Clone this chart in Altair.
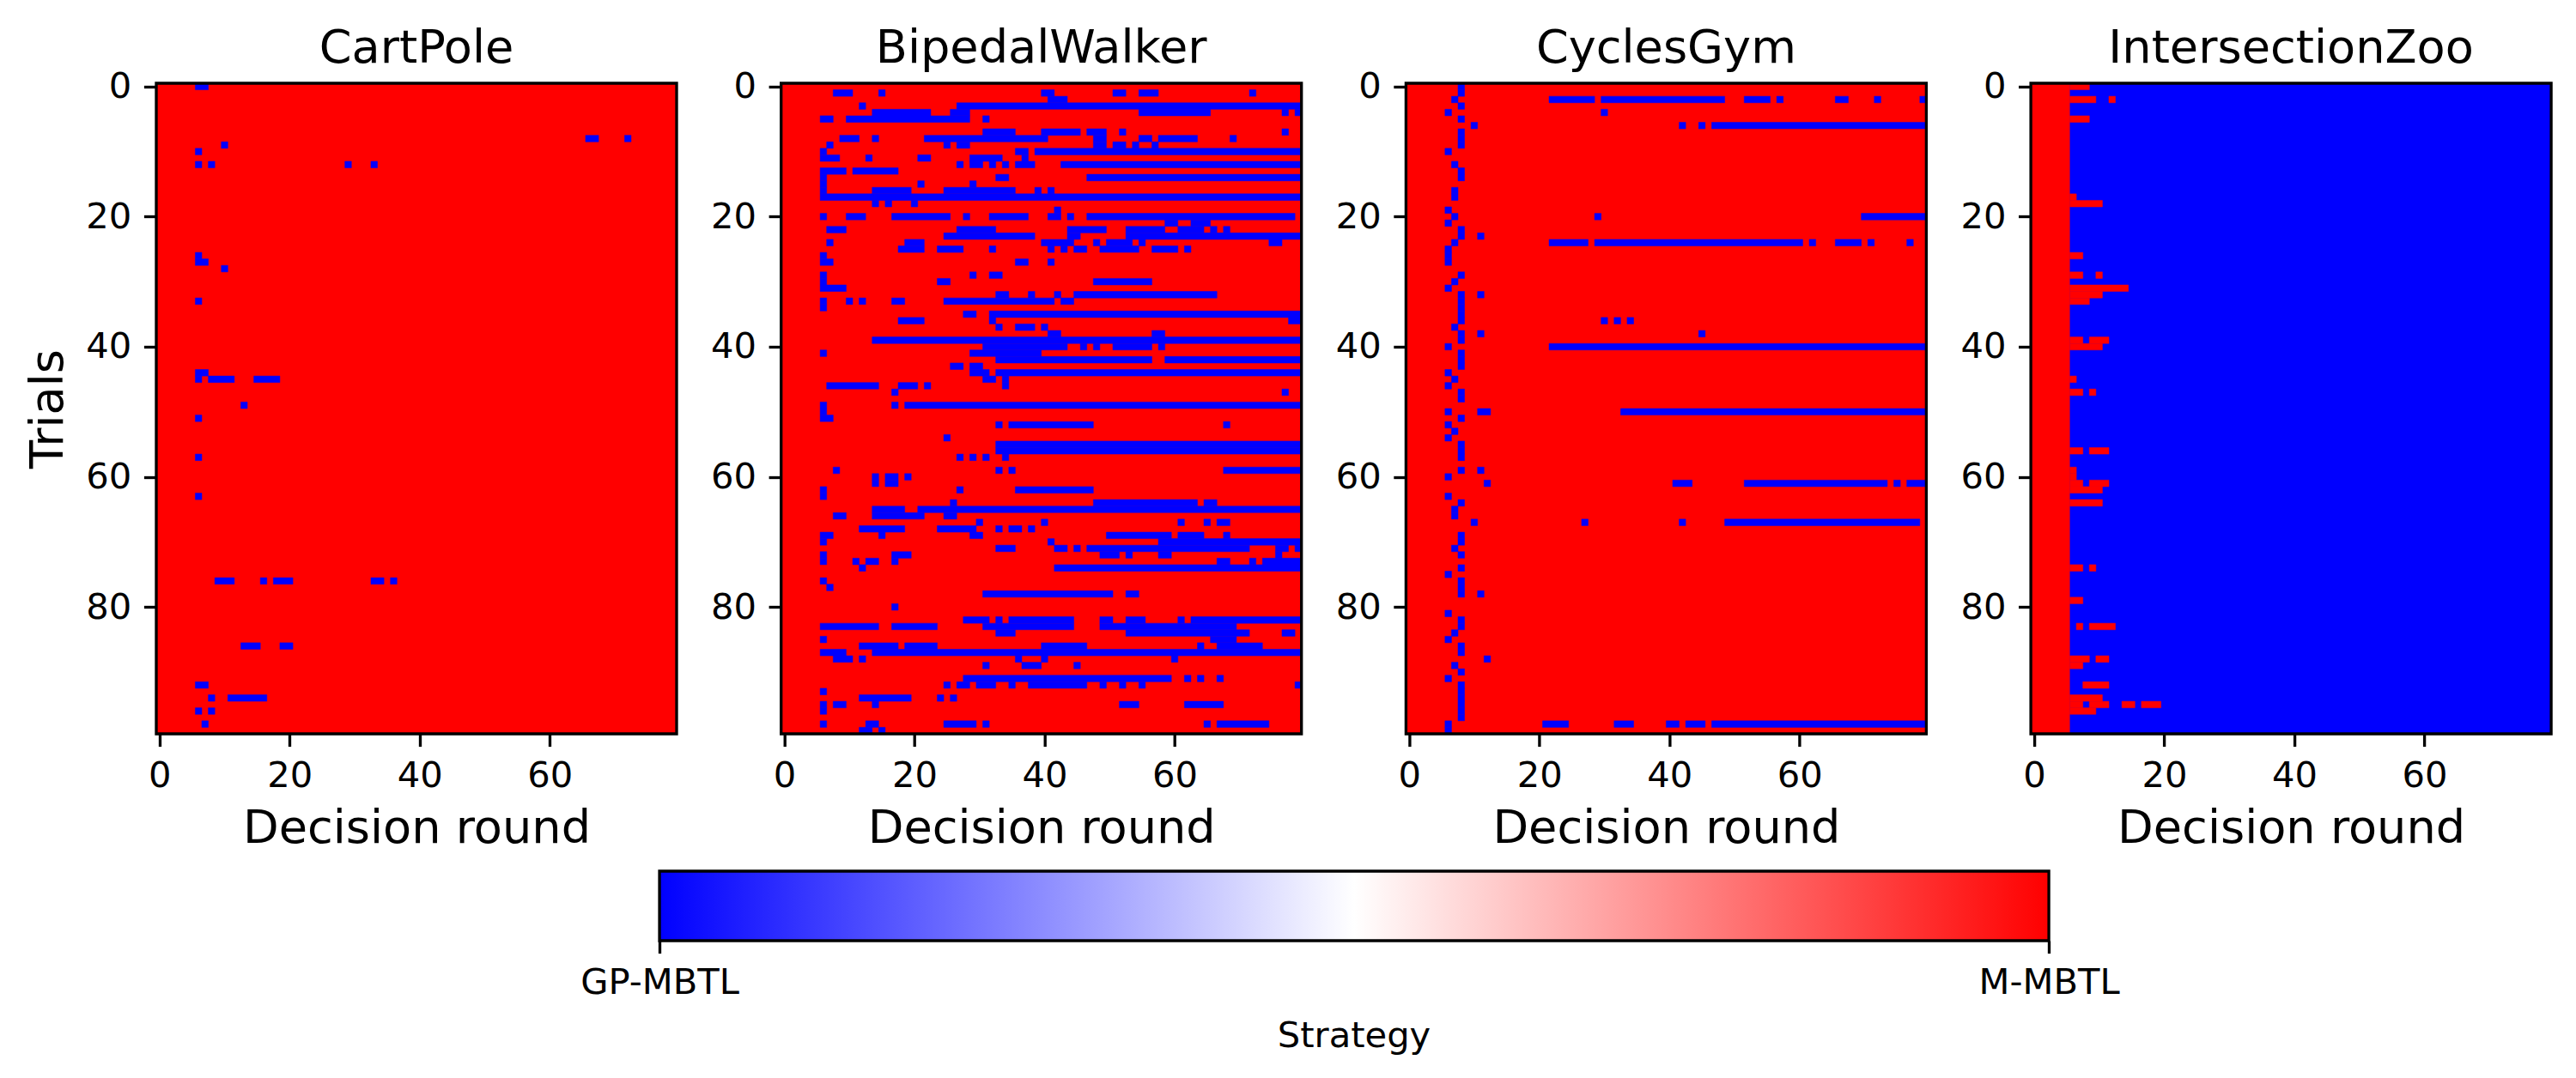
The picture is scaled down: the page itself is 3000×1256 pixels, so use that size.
import altair as alt
import pandas as pd

ROUNDS = 80
TRIALS = 100
XTICKS = [0, 20, 40, 60]
YTICKS = [0, 20, 40, 60, 80]
FONT = "DejaVu Sans"
BLUE = "#0000ff"
RED = "#ff0000"
LINE = 3.33
TICK_LEN = 14.6
TICK_FONT = 41.67
LABEL_FONT = 54.17

# value 1 = M-MBTL (red), value 0 = GP-MBTL (blue)
# each table: trial -> inclusive round spans holding the less common strategy
CARTPOLE_BLUE = {
    0: [(6, 7)], 8: [(66, 67), (72, 72)], 9: [(10, 10)], 10: [(6, 6)],
    12: [(6, 6), (8, 8), (29, 29), (33, 33)], 26: [(6, 6)], 27: [(6, 7)],
    28: [(10, 10)], 33: [(6, 6)], 44: [(6, 7)],
    45: [(6, 6), (8, 11), (15, 18)], 49: [(13, 13)], 51: [(6, 6)],
    57: [(6, 6)], 63: [(6, 6)],
    76: [(9, 11), (16, 16), (18, 20), (33, 34), (36, 36)],
    86: [(13, 15), (19, 20)], 92: [(6, 7)], 94: [(8, 8), (11, 16)],
    96: [(6, 6), (8, 8)], 98: [(7, 7)],
}

BIPEDAL_BLUE = {
    1: [(8, 10), (15, 15), (40, 41), (51, 52), (55, 57), (72, 72)],
    2: [(41, 43)],
    3: [(12, 12), (27, 79)],
    4: [(14, 22), (26, 28), (55, 65), (77, 77), (79, 79)],
    5: [(6, 7), (10, 28), (31, 31)],
    7: [(31, 35), (40, 45), (47, 49), (52, 52), (77, 77)],
    8: [(9, 11), (14, 14), (22, 40), (48, 49), (55, 56), (58, 63), (69, 69)],
    9: [(7, 7), (25, 25), (27, 28), (48, 49), (51, 52), (54, 54), (57, 57)],
    10: [(6, 6), (36, 37), (39, 79)],
    11: [(6, 8), (13, 13), (21, 22), (29, 33), (37, 37)],
    12: [(27, 27), (29, 30), (32, 32), (34, 34), (36, 38), (43, 79)],
    13: [(6, 9), (11, 17)],
    14: [(6, 6), (33, 34), (47, 79)],
    15: [(6, 6), (21, 21), (29, 29)],
    16: [(6, 6), (14, 19), (25, 35), (39, 39), (41, 41)],
    17: [(6, 79)],
    18: [(14, 14), (16, 16), (20, 20)],
    19: [(42, 42)],
    20: [(6, 6), (10, 12), (17, 25), (28, 28), (32, 37), (41, 42), (44, 44), (47, 78)],
    21: [(59, 60), (63, 65)],
    22: [(7, 9), (27, 32), (44, 49), (53, 58), (61, 64), (66, 66), (68, 68)],
    23: [(25, 38), (44, 45), (53, 79)],
    24: [(7, 7), (19, 21), (40, 44), (48, 48), (50, 53), (55, 55), (75, 76)],
    25: [(18, 21), (24, 27), (32, 32), (41, 41), (43, 43), (45, 46), (49, 54), (57, 60), (62, 62)],
    26: [(6, 6)],
    27: [(6, 7), (36, 37), (41, 41)],
    29: [(6, 6), (29, 29), (32, 33)],
    30: [(6, 6), (24, 25), (48, 56)],
    31: [(6, 9)],
    32: [(33, 34), (38, 38), (42, 42), (45, 66)],
    33: [(6, 6), (10, 10), (12, 12), (17, 18), (25, 41), (43, 44)],
    34: [(6, 6)],
    35: [(28, 29), (32, 79)],
    36: [(18, 21), (32, 32), (78, 79)],
    37: [(33, 33), (36, 38), (40, 40)],
    38: [(41, 42), (57, 58)],
    39: [(14, 79)],
    40: [(31, 43), (46, 46), (48, 48), (51, 56), (58, 58)],
    41: [(6, 6), (29, 39)],
    42: [(33, 56), (59, 79)],
    43: [(26, 27), (29, 30)],
    44: [(29, 31), (33, 79)],
    45: [(31, 32), (34, 34)],
    46: [(7, 14), (18, 20), (22, 22), (34, 34)],
    47: [(17, 17), (77, 77)],
    49: [(6, 6), (17, 17), (19, 79)],
    50: [(6, 6)],
    51: [(6, 7)],
    52: [(33, 33), (35, 47), (68, 68)],
    54: [(25, 25)],
    55: [(33, 79)],
    56: [(33, 79)],
    57: [(27, 27), (29, 29), (31, 31), (34, 34)],
    59: [(8, 8), (33, 33), (35, 35), (68, 79)],
    60: [(14, 14), (16, 17), (19, 19)],
    61: [(14, 14), (16, 17)],
    62: [(6, 6), (27, 27), (36, 47)],
    63: [(6, 6)],
    64: [(26, 26), (48, 63), (65, 66)],
    65: [(14, 18), (21, 79)],
    66: [(8, 9), (14, 21), (25, 26)],
    67: [(30, 30), (40, 40), (61, 61), (65, 65), (67, 68)],
    68: [(12, 18), (24, 29), (33, 33), (35, 36), (38, 38)],
    69: [(6, 7), (15, 15), (29, 30), (50, 59), (61, 64), (68, 68)],
    70: [(6, 6), (41, 41), (58, 79)],
    71: [(33, 35), (42, 43), (45, 45), (47, 71), (76, 77), (79, 79)],
    72: [(6, 6), (17, 19), (49, 51), (53, 53), (58, 59), (76, 76)],
    73: [(6, 6), (11, 11), (13, 14), (17, 17), (67, 68), (72, 72), (74, 79)],
    74: [(12, 12), (42, 79)],
    76: [(6, 6)],
    77: [(7, 7)],
    78: [(31, 50), (53, 54)],
    80: [(17, 17)],
    82: [(28, 31), (33, 33), (35, 44), (49, 50), (53, 55), (61, 61), (63, 79)],
    83: [(6, 14), (17, 23), (31, 44), (49, 69)],
    84: [(33, 35), (53, 71), (77, 78)],
    85: [(6, 6), (66, 69)],
    86: [(12, 17), (19, 23), (40, 46), (64, 64), (67, 73)],
    87: [(6, 9), (14, 79)],
    88: [(8, 10), (12, 12), (36, 36), (40, 40), (60, 60)],
    89: [(31, 31), (37, 39), (45, 45)],
    91: [(28, 59), (62, 62), (64, 64), (67, 67)],
    92: [(25, 25), (27, 28), (30, 32), (35, 35), (38, 46), (49, 49), (52, 52), (55, 55), (79, 79)],
    93: [(6, 6)],
    94: [(12, 19), (24, 24), (26, 26)],
    95: [(6, 6), (8, 9), (14, 14), (52, 54), (62, 67)],
    96: [(6, 6)],
    98: [(6, 6), (13, 14), (25, 29), (31, 31), (65, 65), (67, 74)],
    99: [(12, 13), (15, 15)],
}

CYCLES_BLUE = {
    0: [(8, 8)], 1: [(8, 8)],
    2: [(7, 7), (22, 28), (30, 48), (52, 55), (57, 57), (66, 67), (72, 72), (79, 79)],
    3: [(8, 8)], 4: [(6, 6), (30, 30)], 5: [(8, 8)],
    6: [(10, 10), (42, 42), (45, 45), (47, 79)],
    7: [(8, 8)], 8: [(8, 8)], 9: [(8, 8)], 10: [(6, 6)], 12: [(7, 7)],
    13: [(8, 8)], 14: [(8, 8)], 16: [(7, 7)], 17: [(7, 7)], 19: [(6, 6)],
    20: [(7, 7), (29, 29), (70, 79)], 21: [(6, 6)], 22: [(8, 8)],
    23: [(8, 8), (11, 11)],
    24: [(7, 7), (22, 27), (29, 60), (62, 62), (66, 69), (71, 71), (77, 77)],
    25: [(6, 6)], 26: [(6, 6)], 27: [(6, 6)], 29: [(8, 8)], 30: [(7, 7)],
    31: [(6, 6)], 32: [(8, 8), (11, 11)], 33: [(8, 8)], 34: [(8, 8)],
    35: [(8, 8)], 36: [(8, 8), (30, 30), (32, 32), (34, 34)], 37: [(7, 7)],
    38: [(8, 8), (11, 11), (45, 45)], 39: [(8, 8)], 40: [(6, 6), (22, 79)],
    41: [(8, 8)], 42: [(8, 8)], 43: [(8, 8)], 44: [(6, 6)], 45: [(7, 7)],
    46: [(6, 6)], 47: [(8, 8)], 48: [(8, 8)],
    50: [(6, 6), (11, 12), (33, 79)],
    51: [(8, 8)], 52: [(6, 6)], 53: [(7, 7)], 54: [(6, 6)], 55: [(8, 8)],
    56: [(8, 8)], 57: [(8, 8)], 59: [(8, 8), (11, 11)], 60: [(6, 6)],
    61: [(12, 12), (41, 43), (52, 73), (75, 75), (77, 79)],
    63: [(6, 6)], 64: [(8, 8)], 65: [(7, 7)], 66: [(7, 7)],
    67: [(10, 10), (27, 27), (42, 42), (49, 78)],
    69: [(8, 8)], 70: [(8, 8)], 71: [(7, 7)], 72: [(8, 8)], 74: [(8, 8)],
    75: [(6, 6)], 76: [(8, 8)], 77: [(8, 8)], 78: [(8, 8), (11, 11)],
    81: [(6, 6)], 82: [(8, 8)], 83: [(8, 8)], 84: [(7, 7)], 85: [(6, 6)],
    86: [(8, 8)], 87: [(8, 8)], 88: [(12, 12)], 89: [(7, 7)], 90: [(8, 8)],
    91: [(6, 6)], 92: [(8, 8)], 93: [(8, 8)], 94: [(8, 8)], 95: [(8, 8)],
    96: [(8, 8)], 97: [(8, 8)],
    98: [(6, 6), (21, 24), (32, 34), (40, 41), (43, 45), (47, 79)],
    99: [(6, 6)],
}

ZOO_RED = {
    0: [(6, 8)], 2: [(6, 9), (12, 12)], 5: [(6, 8)], 17: [(6, 6)], 18: [(6, 10)],
    26: [(6, 7)], 29: [(6, 7), (10, 10)], 31: [(6, 14)], 32: [(6, 10)], 33: [(6, 8)],
    39: [(6, 7), (9, 11)], 40: [(6, 10)], 45: [(6, 6)], 47: [(6, 7), (9, 9)],
    56: [(6, 7), (9, 11)], 59: [(6, 6)], 60: [(6, 6)], 61: [(6, 7), (9, 11)],
    62: [(6, 10)], 64: [(6, 10)], 74: [(6, 7), (9, 9)], 79: [(6, 7)],
    83: [(7, 7), (9, 12)], 88: [(6, 8), (10, 11)], 89: [(6, 7)],
    92: [(8, 11)], 94: [(6, 10)],
    95: [(6, 7), (9, 11), (14, 15), (17, 19)], 96: [(6, 9)],
}
ZOO_FIRST_ROUNDS_RED = (0, 5)

PANELS = [
    ("CartPole", CARTPOLE_BLUE, 1, 0),
    ("BipedalWalker", BIPEDAL_BLUE, 1, 0),
    ("CyclesGym", CYCLES_BLUE, 1, 0),
    ("IntersectionZoo", ZOO_RED, 0, 1),
]


def span_frame(table, value):
    rows = []
    for trial, spans in table.items():
        for a, b in spans:
            rows.append({"x": a - 0.5, "x2": b + 0.5, "y": trial - 0.5, "y2": trial + 0.5, "v": value})
    return pd.DataFrame(rows)


color = alt.Scale(domain=[0, 1], range=[BLUE, RED])
xscale = alt.Scale(domain=[-0.5, ROUNDS - 0.5], nice=False, zero=False)
yscale = alt.Scale(domain=[TRIALS - 0.5, -0.5], nice=False, zero=False)
axis_common = dict(
    grid=False, domain=False, tickColor="black", tickWidth=LINE, tickSize=TICK_LEN,
    labelFont=FONT, labelFontSize=TICK_FONT, labelColor="black", labelPadding=TICK_LEN,
    labelOverlap=False, labelFlush=False, titleFont=FONT, titleFontSize=LABEL_FONT,
    titleFontWeight="normal", titleColor="black", titlePadding=16, labelLimit=500,
)


def panel(name, table, base, other, first):
    whole = pd.DataFrame([{"x": -0.5, "x2": ROUNDS - 0.5, "y": -0.5, "y2": TRIALS - 0.5, "v": base}])
    x_kw = {**axis_common, "labelPadding": 14, "titlePadding": 13}
    xaxis = alt.Axis(values=XTICKS, title="Decision round", **x_kw)
    yaxis = alt.Axis(values=YTICKS, title="Trials" if first else None, **axis_common)
    enc = dict(
        x=alt.X("x:Q", scale=xscale, axis=xaxis), x2="x2:Q",
        y=alt.Y("y:Q", scale=yscale, axis=yaxis), y2="y2:Q",
    )
    fill = alt.Fill("v:N", scale=color, legend=None)
    back = alt.Chart(whole).mark_rect().encode(fill=fill, **enc)
    layers = [back]
    if base == 0:
        # first rounds of this panel are always the other strategy
        a, b = ZOO_FIRST_ROUNDS_RED
        left = pd.DataFrame([{"x": a - 0.5, "x2": b + 0.5, "y": -0.5, "y2": TRIALS - 0.5, "v": other}])
        layers.append(alt.Chart(left).mark_rect().encode(fill=fill, **enc))
    layers.append(alt.Chart(span_frame(table, other)).mark_rect(strokeWidth=0.5).encode(
        fill=fill, stroke=alt.Stroke("v:N", scale=color, legend=None), **enc,
    ))
    layers.append(alt.Chart(whole).mark_rect(fillOpacity=0, stroke="black", strokeWidth=LINE).encode(**enc))
    return alt.layer(*layers).properties(
        width=606, height=758,
        title=alt.TitleParams(name, font=FONT, fontSize=LABEL_FONT, fontWeight="normal",
                              color="black", anchor="middle", offset=-46, baseline="alphabetic"),
    )


charts = [panel(n, t, b, o, i == 0) for i, (n, t, b, o) in enumerate(PANELS)]

# colour bar: 0 = GP-MBTL, 1 = M-MBTL
bar = alt.Chart(pd.DataFrame({"x": [0], "x2": [1]})).mark_rect(
    color=alt.LinearGradient(
        gradient="linear", x1=0, x2=1, y1=0, y2=0,
        stops=[alt.GradientStop(color=BLUE, offset=0),
               alt.GradientStop(color="#ffffff", offset=0.5),
               alt.GradientStop(color=RED, offset=1)],
    ),
    stroke="black", strokeWidth=LINE,
).encode(
    x=alt.X("x:Q", scale=alt.Scale(domain=[-0.3622, 1.3615], nice=False, zero=False),
            axis=alt.Axis(
                values=[0, 1], title="Strategy",
                labelExpr="datum.value == 0 ? 'GP-MBTL' : 'M-MBTL'",
                **{**axis_common, "labelPadding": 14, "titleFontSize": TICK_FONT, "titlePadding": 20},
            )),
    x2="x2:Q",
).properties(width=2789, height=81)

row = alt.hconcat(*charts, spacing=121.7, bounds="flush")
chart = alt.vconcat(row, bar, spacing=20).properties(
    padding={"left": 21, "top": 21, "right": 0, "bottom": 16},
    background="white",
).configure_view(stroke=None)

chart.save("out.html", embed_options={"renderer": "svg", "actions": False})
